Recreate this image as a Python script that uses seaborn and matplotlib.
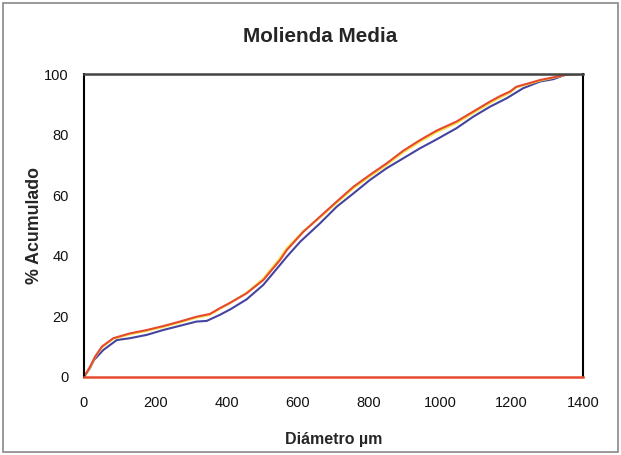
import matplotlib
matplotlib.use("Agg")
import matplotlib.pyplot as plt
import seaborn as sns
import pandas as pd

# Diameter (µm) and cumulative % for the three series
diam_blue = [0, 17, 28, 54, 92, 129, 176, 222, 269, 316, 344, 381, 410, 456, 503, 550,
             569, 607, 662, 709, 756, 802, 849, 896, 943, 989, 1045, 1092, 1139, 1186,
             1232, 1279, 1317, 1354, 1400]
pct_blue = [0, 3.0, 5.6, 8.9, 12.2, 12.8, 13.9, 15.5, 16.9, 18.3, 18.5, 20.5, 22.3, 25.6,
            30.4, 37.0, 39.7, 44.7, 50.7, 56.2, 60.6, 65.0, 68.9, 72.2, 75.5, 78.4,
            82.1, 85.9, 89.2, 92.0, 95.3, 97.5, 98.3, 99.9, 100]

diam_yellow = [0, 17, 31, 50, 82, 129, 176, 222, 269, 316, 353, 381, 410, 456, 503, 550,
               569, 616, 662, 709, 756, 802, 849, 896, 943, 989, 1045, 1092, 1139,
               1167, 1195, 1213, 1241, 1279, 1326, 1354, 1400]
pct_yellow = [0, 3.2, 6.5, 9.8, 12.6, 14.1, 15.2, 16.5, 18.0, 19.6, 20.5, 22.5, 24.4,
              27.8, 32.5, 39.3, 42.5, 48.2, 52.6, 57.5, 62.3, 66.2, 70.0, 74.2, 77.7,
              80.8, 83.8, 87.1, 90.4, 92.2, 93.8, 95.6, 96.5, 97.8, 99.0, 99.8, 100]

diam_red = [0, 17, 31, 50, 82, 129, 176, 222, 269, 316, 353, 381, 410, 456, 503, 550,
            569, 616, 662, 709, 756, 802, 849, 896, 943, 989, 1045, 1092, 1139, 1167,
            1195, 1213, 1241, 1279, 1326, 1354, 1400]
pct_red = [0, 3.4, 6.7, 10.0, 12.8, 14.4, 15.5, 16.8, 18.3, 19.9, 20.8, 22.7, 24.5, 27.6,
           32.0, 38.6, 41.9, 48.0, 52.9, 57.9, 62.8, 66.7, 70.5, 74.7, 78.2, 81.3, 84.3,
           87.6, 90.9, 92.7, 94.2, 95.8, 96.7, 98.0, 99.1, 99.8, 100]

x_ticks = [0, 200, 400, 600, 800, 1000, 1200, 1400]
y_ticks = [0, 20, 40, 60, 80, 100]

df = pd.concat([
    pd.DataFrame({"d": diam_blue, "p": pct_blue, "s": "A"}),
    pd.DataFrame({"d": diam_yellow, "p": pct_yellow, "s": "B"}),
    pd.DataFrame({"d": diam_red, "p": pct_red, "s": "C"}),
])

sns.set_style("white")
plt.rcParams["font.family"] = ["Liberation Sans", "DejaVu Sans"]

fig = plt.figure(figsize=(6.21, 4.55), dpi=100)
ax = fig.add_axes([84 / 621, 78 / 455, 499 / 621, 303 / 455])

sns.lineplot(data=df, x="d", y="p", hue="s", sort=False, estimator=None,
             palette={"A": "#4444A0", "B": "#F2E24A", "C": "#E64A2E"},
             linewidth=1.5, legend=False, ax=ax)

ax.set_xlim(0, 1400)
ax.set_ylim(0, 100)
ax.set_xticks(x_ticks)
ax.set_yticks(y_ticks)
ax.tick_params(axis="both", direction="out", length=4, width=0.8, colors="#888888",
               labelcolor="#111111", labelsize=10.5)
ax.tick_params(axis="x", pad=10)
ax.tick_params(axis="y", pad=7)
for side in ["left", "right"]:
    ax.spines[side].set_color("black")
    ax.spines[side].set_linewidth(1.5)
ax.spines["top"].set_color("#444444")
ax.spines["top"].set_linewidth(1.8)
ax.spines["bottom"].set_color("#E64A2E")
ax.spines["bottom"].set_linewidth(1.8)

ax.set_xlabel("Diámetro µm", fontsize=11.5, fontweight="bold", labelpad=15.5)
ax.set_ylabel("% Acumulado", fontsize=12.8, fontweight="bold", labelpad=1)
fig.text(320 / 621, 1 - 37 / 455, "Molienda Media", ha="center", va="center",
         fontsize=14.9, fontweight="bold")

border = plt.Rectangle((3 / 621, 3 / 455), 615 / 621, 449 / 455, transform=fig.transFigure,
                       fill=False, edgecolor="#888888", linewidth=1.2)
fig.patches.append(border)

fig.savefig("out.png", dpi=100)
